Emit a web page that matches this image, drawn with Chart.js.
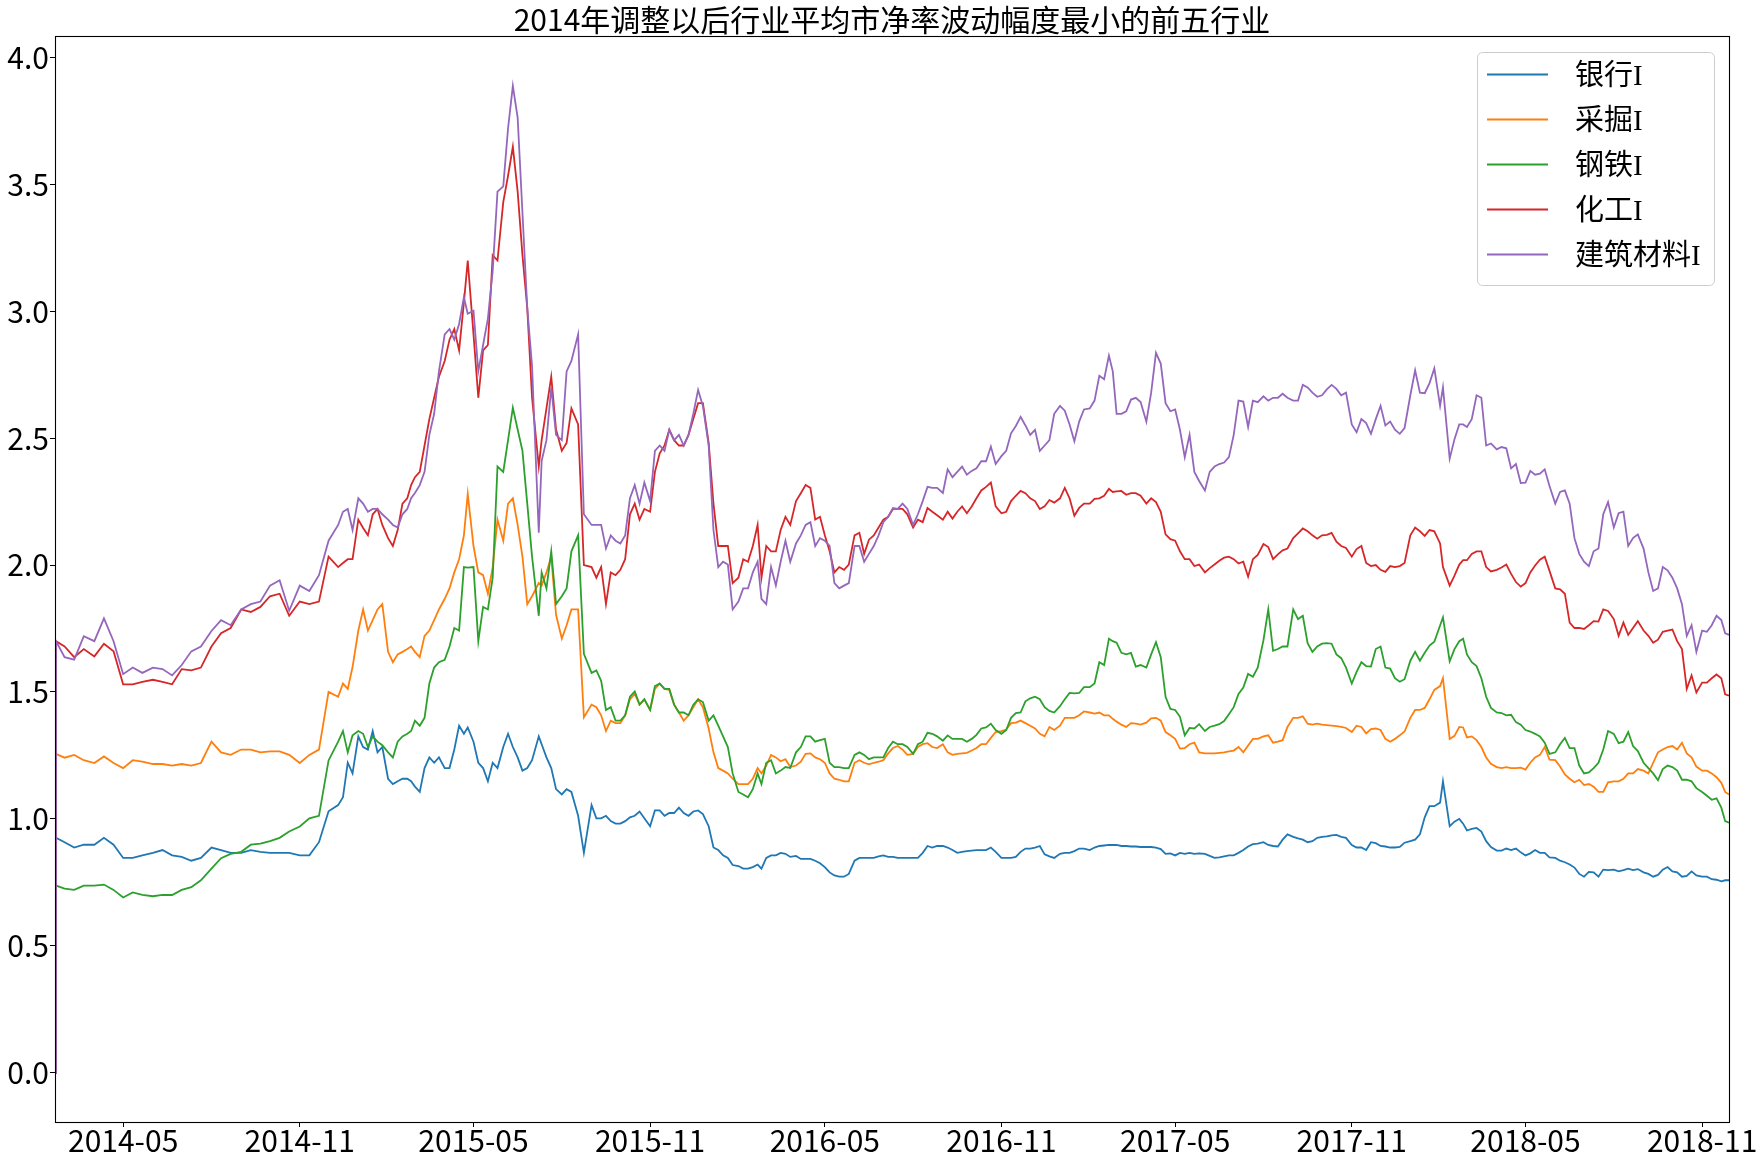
<!DOCTYPE html>
<html><head><meta charset="utf-8">
<script src="https://cdn.jsdelivr.net/npm/chart.js@4.4.1/dist/chart.umd.min.js"></script>
<style>html,body{margin:0;padding:0;background:#fff;}#wrap{width:1763px;height:1167px;}</style>
</head><body><div id="wrap"><canvas id="c" width="1763" height="1167"></canvas></div>
<script>
const chartTitle = '2014年调整以后行业平均市净率波动幅度最小的前五行业';
const seriesNames = ['银行I', '采掘I', '钢铁I', '化工I', '建筑材料I'];
const dates = [
'2014-02-19','2014-02-20','2014-03-01','2014-03-11','2014-03-21','2014-04-01','2014-04-11','2014-04-21','2014-05-01','2014-05-11','2014-05-21','2014-06-01','2014-06-11','2014-06-21','2014-07-01','2014-07-11','2014-07-21','2014-08-01','2014-08-11','2014-08-21','2014-09-01','2014-09-11','2014-09-21','2014-10-01','2014-10-11','2014-10-21','2014-11-01','2014-11-11','2014-11-21','2014-12-01','2014-12-11','2014-12-21',
'2015-01-01','2015-01-11','2015-01-21','2015-02-01','2015-02-11','2015-02-21','2015-03-01','2015-03-11','2015-03-21','2015-04-01','2015-04-11','2015-04-21','2015-04-25','2015-05-01','2015-05-11','2015-05-21','2015-06-01','2015-06-11','2015-06-21','2015-07-01','2015-07-08','2015-07-11','2015-07-21','2015-08-01','2015-08-11','2015-08-18','2015-08-24','2015-09-01','2015-09-11','2015-09-21','2015-10-01','2015-10-11','2015-10-21','2015-11-01','2015-11-11','2015-11-21','2015-12-01','2015-12-11','2015-12-21',
'2016-01-01','2016-01-11','2016-01-21','2016-02-01','2016-02-11','2016-02-21','2016-03-01','2016-03-11','2016-03-21','2016-04-01','2016-04-11','2016-04-21','2016-05-01','2016-05-11','2016-05-21','2016-06-01','2016-06-11','2016-06-21','2016-07-01','2016-07-11','2016-07-21','2016-08-01','2016-08-11','2016-08-21','2016-09-01','2016-09-11','2016-09-21','2016-10-01','2016-10-11','2016-10-21','2016-11-01','2016-11-11','2016-11-21','2016-12-01','2016-12-11','2016-12-21',
'2017-01-01','2017-01-11','2017-01-21','2017-02-01','2017-02-11','2017-02-21','2017-03-01','2017-03-11','2017-03-21','2017-04-01','2017-04-11','2017-04-21','2017-05-01','2017-05-11','2017-05-21','2017-06-01','2017-06-11','2017-06-21','2017-07-01','2017-07-11','2017-07-21','2017-08-01','2017-08-11','2017-08-21','2017-09-01','2017-09-11','2017-09-21','2017-10-01','2017-10-11','2017-10-21','2017-11-01','2017-11-11','2017-11-21','2017-12-01','2017-12-11','2017-12-21',
'2018-01-01','2018-01-11','2018-01-21','2018-02-01','2018-02-04','2018-02-11','2018-02-21','2018-03-01','2018-03-11','2018-03-21','2018-04-01','2018-04-11','2018-04-21','2018-05-01','2018-05-11','2018-05-21','2018-06-01','2018-06-11','2018-06-21','2018-07-01','2018-07-11','2018-07-21','2018-08-01','2018-08-11','2018-08-21','2018-09-01','2018-09-11','2018-09-21','2018-10-01','2018-10-11','2018-10-21','2018-11-01','2018-11-11','2018-11-21','2018-11-29'
];
// 银行I
const bank = [
0,.926,.908,.887,.898,.898,.925,.898,.846,.846,.856,.866,.877,.856,.85,.835,.846,.887,.877,.866,.866,.877,.87,.866,.866,.866,.856,.856,.908,1.03,1.054,1.221,
1.325,1.273,1.262,1.158,1.148,1.158,1.127,1.2,1.221,1.2,1.273,1.335,1.36,1.304,1.2,1.221,1.283,1.283,1.19,1.231,1.325,1.294,1.2,1.096,1.106,1.012,.866,1.054,1.002,.991,.981,1.006,1.029,.971,1.033,1.023,1.044,1.012,1.033,
.971,.877,.846,.814,.804,.82,.846,.856,.862,.854,.842,.835,.81,.777,.772,.835,.846,.846,.856,.85,.846,.846,.866,.887,.893,.877,.87,.875,.877,.887,.846,.846,.87,.883,.893,.852,
.862,.866,.883,.877,.893,.897,.897,.893,.891,.889,.887,.862,.856,.862,.862,.862,.846,.852,.856,.877,.9,.908,.893,.918,.929,.918,.912,.929,.935,.929,.897,.887,.908,.893,.887,.889,
.912,.939,1.05,1.064,1.148,.971,1.0,.954,.964,.912,.875,.883,.883,.856,.877,.866,.846,.829,.808,.772,.789,.8,.8,.798,.798,.789,.772,.8,.793,.772,.793,.772,.762,.754,.758
];
// 采掘I
const mining = [
0,1.256,1.241,1.252,1.231,1.22,1.246,1.22,1.2,1.231,1.225,1.216,1.216,1.21,1.216,1.21,1.22,1.304,1.262,1.252,1.273,1.273,1.262,1.266,1.266,1.252,1.22,1.252,1.273,1.5,1.481,1.512,
1.742,1.742,1.825,1.658,1.648,1.669,1.658,1.721,1.783,1.867,1.971,2.117,2.28,2.075,1.96,1.992,2.096,2.263,2.033,1.877,1.929,1.919,2.033,1.71,1.825,1.825,1.4,1.45,1.408,1.387,1.377,1.471,1.45,1.429,1.533,1.508,1.419,1.408,1.471,
1.356,1.2,1.179,1.137,1.137,1.2,1.21,1.242,1.235,1.21,1.256,1.242,1.221,1.158,1.148,1.221,1.221,1.221,1.231,1.279,1.273,1.256,1.294,1.283,1.294,1.252,1.258,1.269,1.294,1.319,1.346,1.377,1.387,1.367,1.335,1.362,
1.367,1.398,1.408,1.419,1.419,1.408,1.383,1.362,1.375,1.379,1.398,1.342,1.315,1.279,1.3,1.258,1.258,1.262,1.269,1.262,1.315,1.325,1.3,1.31,1.398,1.404,1.371,1.371,1.367,1.362,1.342,1.362,1.354,1.35,1.304,1.329,
1.398,1.429,1.471,1.523,1.554,1.315,1.362,1.321,1.31,1.242,1.204,1.204,1.2,1.194,1.242,1.283,1.231,1.175,1.144,1.133,1.127,1.106,1.148,1.158,1.179,1.19,1.221,1.273,1.287,1.3,1.242,1.19,1.179,1.142,1.096
];
// 钢铁I
const steel = [
0,.737,.725,.72,.737,.737,.741,.72,.69,.71,.7,.695,.7,.7,.72,.731,.758,.804,.845,.862,.87,.898,.902,.912,.925,.95,.97,1.002,1.012,1.23,1.304,1.262,
1.346,1.283,1.304,1.262,1.304,1.335,1.387,1.398,1.596,1.627,1.752,1.992,1.99,1.992,1.835,1.95,2.367,2.62,2.45,2.033,1.8,1.971,2.054,1.877,2.054,2.117,1.65,1.575,1.544,1.44,1.387,1.481,1.45,1.429,1.533,1.512,1.419,1.408,1.471,
1.387,1.367,1.283,1.106,1.085,1.179,1.221,1.179,1.204,1.262,1.325,1.304,1.315,1.204,1.2,1.252,1.252,1.242,1.242,1.304,1.294,1.256,1.304,1.335,1.308,1.315,1.315,1.315,1.356,1.375,1.335,1.398,1.419,1.475,1.471,1.425,
1.444,1.496,1.496,1.519,1.617,1.71,1.694,1.648,1.6,1.596,1.696,1.481,1.429,1.329,1.356,1.346,1.367,1.385,1.44,1.517,1.56,1.704,1.662,1.679,1.825,1.8,1.658,1.69,1.69,1.633,1.533,1.617,1.6,1.679,1.592,1.54,
1.623,1.623,1.683,1.762,1.794,1.621,1.7,1.648,1.602,1.481,1.419,1.408,1.381,1.35,1.335,1.3,1.262,1.319,1.279,1.179,1.2,1.273,1.335,1.304,1.287,1.221,1.179,1.196,1.204,1.154,1.148,1.106,1.075,1.044,.985
];
// 化工I
const chem = [
0,1.7,1.679,1.637,1.669,1.64,1.69,1.66,1.53,1.53,1.54,1.548,1.54,1.53,1.59,1.585,1.596,1.679,1.731,1.752,1.825,1.815,1.835,1.877,1.887,1.8,1.856,1.846,1.856,2.033,1.992,2.023,
2.179,2.117,2.221,2.106,2.138,2.263,2.346,2.471,2.659,2.804,2.93,3.034,3.2,2.909,2.846,3.221,3.43,3.648,3.221,2.659,2.388,2.492,2.742,2.45,2.617,2.554,2.0,1.992,1.992,1.971,1.981,2.2,2.179,2.21,2.44,2.533,2.471,2.513,2.638,
2.481,2.075,2.075,1.95,2.013,2.158,2.075,2.054,2.19,2.252,2.315,2.179,2.117,1.971,1.981,2.117,2.044,2.117,2.179,2.221,2.221,2.148,2.169,2.21,2.179,2.183,2.231,2.231,2.294,2.325,2.204,2.252,2.292,2.263,2.221,2.256,
2.263,2.263,2.225,2.242,2.263,2.3,2.29,2.277,2.283,2.242,2.248,2.121,2.096,2.023,1.996,1.971,2.002,2.029,2.023,2.013,2.023,2.083,2.023,2.058,2.106,2.144,2.117,2.117,2.127,2.075,2.033,2.075,1.996,1.981,1.996,1.996,
2.117,2.133,2.138,2.085,1.992,1.919,2.002,2.019,2.054,1.992,1.981,2.002,1.933,1.929,1.998,2.033,1.908,1.887,1.752,1.748,1.779,1.825,1.787,1.773,1.752,1.742,1.694,1.737,1.746,1.669,1.565,1.537,1.554,1.554,1.485
];
// 建筑材料I
const building = [
0,1.7,1.637,1.627,1.72,1.7,1.79,1.7,1.57,1.596,1.575,1.596,1.59,1.565,1.606,1.66,1.679,1.74,1.783,1.763,1.825,1.846,1.856,1.919,1.94,1.82,1.919,1.898,1.96,2.096,2.158,2.221,
2.263,2.21,2.221,2.179,2.148,2.221,2.284,2.367,2.596,2.909,2.888,3.055,2.99,3.002,2.867,3.159,3.492,3.888,3.388,2.784,2.127,2.41,2.7,2.492,2.804,2.909,2.2,2.158,2.158,2.117,2.085,2.263,2.242,2.252,2.471,2.533,2.513,2.513,2.69,
2.471,1.992,2.002,1.856,1.908,2.013,1.846,1.919,2.096,2.085,2.158,2.075,2.096,1.929,1.919,2.075,2.013,2.075,2.169,2.225,2.242,2.158,2.252,2.304,2.284,2.346,2.388,2.371,2.409,2.467,2.429,2.519,2.584,2.513,2.45,2.492,
2.627,2.554,2.565,2.617,2.746,2.825,2.596,2.606,2.659,2.565,2.836,2.638,2.613,2.425,2.367,2.294,2.388,2.404,2.513,2.644,2.648,2.665,2.659,2.675,2.648,2.71,2.679,2.669,2.71,2.669,2.554,2.575,2.517,2.627,2.565,2.517,
2.669,2.679,2.717,2.627,2.7,2.419,2.554,2.544,2.669,2.471,2.456,2.46,2.398,2.325,2.356,2.377,2.242,2.294,2.106,2.013,2.054,2.2,2.148,2.21,2.106,2.065,1.898,1.992,1.95,1.846,1.763,1.742,1.763,1.783,1.725
];
// additional readings between the dates above
const midDates = [
'2014-12-16','2014-12-26',
'2015-01-06','2015-01-16','2015-01-26','2015-02-06','2015-02-16','2015-02-25','2015-03-06','2015-03-16','2015-03-26','2015-04-06','2015-04-16','2015-05-06','2015-05-16','2015-05-26','2015-06-06','2015-06-16','2015-06-26','2015-07-16','2015-07-26','2015-08-06','2015-09-06','2015-09-16','2015-09-26','2015-10-06','2015-10-16','2015-10-26','2015-11-06','2015-11-16','2015-11-26','2015-12-06','2015-12-16','2015-12-26',
'2016-01-06','2016-01-16','2016-01-26','2016-02-06','2016-02-16','2016-02-25','2016-03-06','2016-03-16','2016-03-26','2016-04-06','2016-04-16','2016-04-26','2016-05-06','2016-05-16','2016-05-26','2016-06-06','2016-06-16','2016-06-26','2016-07-06','2016-07-16','2016-07-26','2016-08-06','2016-08-16','2016-08-26','2016-09-06','2016-09-16','2016-09-26','2016-10-06','2016-10-16','2016-10-26','2016-11-06','2016-11-16','2016-11-26','2016-12-06','2016-12-16','2016-12-26',
'2017-01-06','2017-01-16','2017-01-26','2017-02-06','2017-02-16','2017-02-25','2017-03-06','2017-03-16','2017-03-26','2017-04-06','2017-04-16','2017-04-26','2017-05-06','2017-05-16','2017-05-26','2017-06-06','2017-06-16','2017-06-26','2017-07-06','2017-07-16','2017-07-26','2017-08-06','2017-08-16','2017-08-26','2017-09-06','2017-09-16','2017-09-26','2017-10-06','2017-10-16','2017-10-26','2017-11-06','2017-11-16','2017-11-26','2017-12-06','2017-12-16','2017-12-26',
'2018-01-06','2018-01-16','2018-01-26','2018-02-16','2018-02-25','2018-03-06','2018-03-16','2018-03-26','2018-04-06','2018-04-16','2018-04-26','2018-05-06','2018-05-16','2018-05-26','2018-06-06','2018-06-16','2018-06-26','2018-07-06','2018-07-16','2018-07-26','2018-08-06','2018-08-16','2018-08-26','2018-09-06','2018-09-16','2018-09-26','2018-10-06','2018-10-16','2018-10-26','2018-11-06','2018-11-16','2018-11-25'
];
const bankMid = [
1.085,1.179,
1.283,1.346,1.283,1.137,1.158,1.148,1.106,1.242,1.242,1.2,1.367,1.221,1.148,1.2,1.335,1.242,1.2,1.242,1.117,1.117,1.002,1.012,.981,.991,1.012,1.002,1.033,1.012,1.023,1.023,1.029,1.019,
.887,.856,.818,.804,.81,.804,.856,.866,.85,.842,.842,.825,.789,.772,.783,.846,.846,.852,.85,.846,.846,.846,.893,.893,.887,.866,.873,.877,.877,.87,.846,.85,.883,.887,.86,.846,
.866,.873,.883,.887,.895,.897,.893,.891,.889,.889,.881,.864,.866,.866,.864,.854,.848,.856,.866,.891,.902,.897,.891,.939,.923,.908,.925,.931,.937,.925,.887,.877,.904,.891,.887,.906,
.918,1.006,1.05,.989,.981,.96,.95,.889,.875,.877,.868,.864,.866,.848,.835,.82,.783,.791,.772,.798,.793,.804,.802,.783,.779,.81,.789,.775,.777,.772,.76,.758
];
const miningMid = [
1.533,1.598,
1.825,1.783,1.846,1.617,1.658,1.679,1.637,1.742,1.825,1.908,2.023,1.971,1.887,2.179,2.242,2.158,1.846,1.971,1.804,1.763,1.44,1.346,1.377,1.408,1.492,1.471,1.512,1.512,1.45,1.387,1.44,1.44,
1.262,1.19,1.158,1.137,1.158,1.179,1.252,1.227,1.204,1.225,1.258,1.235,1.179,1.154,1.148,1.231,1.215,1.225,1.258,1.287,1.252,1.283,1.298,1.279,1.262,1.256,1.26,1.279,1.294,1.342,1.352,1.379,1.377,1.356,1.325,1.35,
1.398,1.398,1.423,1.415,1.408,1.394,1.371,1.377,1.371,1.396,1.387,1.329,1.277,1.294,1.262,1.258,1.26,1.266,1.283,1.289,1.315,1.329,1.304,1.362,1.398,1.375,1.375,1.369,1.365,1.358,1.367,1.337,1.356,1.315,1.315,1.344,
1.429,1.437,1.508,1.327,1.36,1.325,1.283,1.217,1.2,1.2,1.202,1.221,1.252,1.233,1.206,1.158,1.154,1.137,1.106,1.144,1.148,1.179,1.196,1.179,1.262,1.283,1.273,1.258,1.206,1.19,1.164,1.106
];
const steelMid = [
1.346,1.329,
1.335,1.325,1.29,1.242,1.325,1.346,1.367,1.533,1.617,1.679,1.742,1.7,1.825,2.388,2.492,2.534,2.242,1.908,1.846,1.908,1.585,1.429,1.387,1.408,1.502,1.471,1.523,1.512,1.45,1.419,1.45,1.46,
1.408,1.325,1.179,1.096,1.117,1.137,1.231,1.19,1.2,1.283,1.325,1.31,1.221,1.204,1.2,1.262,1.235,1.242,1.279,1.294,1.283,1.294,1.339,1.325,1.329,1.315,1.304,1.331,1.36,1.35,1.35,1.417,1.463,1.481,1.44,1.419,
1.471,1.494,1.519,1.533,1.606,1.7,1.654,1.654,1.606,1.648,1.637,1.433,1.402,1.358,1.373,1.362,1.373,1.412,1.492,1.571,1.596,1.825,1.669,1.679,1.787,1.692,1.679,1.692,1.648,1.596,1.579,1.602,1.669,1.596,1.554,1.55,
1.658,1.654,1.698,1.669,1.71,1.617,1.554,1.437,1.417,1.41,1.371,1.344,1.325,1.256,1.294,1.279,1.21,1.183,1.221,1.346,1.298,1.342,1.267,1.2,1.152,1.21,1.19,1.154,1.121,1.091,1.081,.991
];
const chemMid = [
2.008,2.023,
2.146,2.2,2.158,2.075,2.242,2.315,2.367,2.575,2.742,2.888,2.846,2.659,2.867,3.2,3.534,3.471,3.013,2.617,2.534,2.481,1.95,1.846,1.96,2.023,2.242,2.221,2.367,2.471,2.492,2.471,2.575,2.638,
2.242,2.075,1.929,2.023,2.075,1.95,2.054,2.138,2.158,2.283,2.304,2.19,2.054,1.992,2.002,2.127,2.1,2.148,2.19,2.221,2.2,2.179,2.225,2.196,2.21,2.21,2.204,2.263,2.308,2.231,2.21,2.273,2.283,2.252,2.231,2.246,
2.304,2.194,2.242,2.261,2.273,2.288,2.292,2.283,2.273,2.263,2.21,2.102,2.054,2.023,2.002,1.988,2.017,2.033,2.006,1.954,2.04,2.071,2.042,2.065,2.125,2.133,2.104,2.119,2.092,2.067,2.063,2.008,2.0,1.973,1.992,2.008,
2.148,2.115,2.133,1.958,2.019,2.044,2.054,1.975,1.99,1.965,1.915,1.971,2.021,1.977,1.904,1.773,1.752,1.763,1.777,1.819,1.721,1.725,1.779,1.721,1.706,1.742,1.7,1.512,1.498,1.537,1.569,1.491
];
const buildingMid = [
2.21,2.138,
2.242,2.221,2.2,2.158,2.2,2.263,2.315,2.513,2.763,2.93,2.95,2.763,2.971,3.471,3.721,3.763,3.013,2.492,2.513,2.763,2.158,2.065,2.096,2.117,2.315,2.325,2.45,2.45,2.492,2.471,2.596,2.627,
2.138,2.013,1.825,1.908,1.971,1.867,1.992,2.013,2.013,2.117,2.169,2.106,2.075,1.908,1.929,2.075,2.044,2.117,2.19,2.221,2.221,2.2,2.308,2.304,2.377,2.367,2.356,2.381,2.409,2.398,2.45,2.548,2.55,2.533,2.471,2.596,
2.608,2.488,2.613,2.648,2.732,2.763,2.596,2.652,2.642,2.679,2.794,2.606,2.533,2.513,2.331,2.367,2.398,2.425,2.648,2.544,2.642,2.648,2.659,2.659,2.648,2.7,2.663,2.692,2.694,2.679,2.523,2.559,2.575,2.55,2.533,2.54,
2.767,2.677,2.775,2.496,2.554,2.575,2.659,2.479,2.465,2.381,2.323,2.371,2.36,2.311,2.288,2.242,2.044,1.996,2.065,2.248,2.204,2.075,2.121,1.971,1.908,1.979,1.908,1.721,1.658,1.737,1.8,1.731
];
const xTickDates = ['2014-05-01','2014-11-01','2015-05-01','2015-11-01','2016-05-01','2016-11-01','2017-05-01','2017-11-01','2018-05-01','2018-11-01'];
const yTickValues = [0, 0.5, 1.0, 1.5, 2.0, 2.5, 3.0, 3.5, 4.0];
const colors = ['#1f77b4', '#ff7f0e', '#2ca02c', '#d62728', '#9467bd'];

const FONT = '"Noto Sans CJK SC", "Noto Sans", sans-serif';
function dayNum(s) { const p = s.split('-').map(Number); return Date.UTC(p[0], p[1] - 1, p[2]) / 86400000; }
function fmtMonth(v) { const d = new Date(v * 86400000); return d.getUTCFullYear() + '-' + String(d.getUTCMonth() + 1).padStart(2, '0'); }

const allDates = dates.concat(midDates);
const order = allDates.map((d, i) => i).sort((a, b) => dayNum(allDates[a]) - dayNum(allDates[b]));
const allX = allDates.map(dayNum);
const seriesValues = [
  bank.concat(bankMid), mining.concat(miningMid), steel.concat(steelMid),
  chem.concat(chemMid), building.concat(buildingMid)
];
const xMin = dayNum(dates[0]), xMax = dayNum(dates[dates.length - 1]);
const datasets = seriesNames.map((name, i) => ({
  label: name,
  data: order.map(j => ({ x: allX[j], y: seriesValues[i][j] })),
  borderColor: colors[i],
  backgroundColor: colors[i],
  borderWidth: 1.8,
  pointRadius: 0,
  tension: 0,
  fill: false,
  order: seriesNames.length - i
}));

const decor = {
  id: 'decor',
  afterDatasetsDraw(chart) {
    const ctx = chart.ctx, a = chart.chartArea;
    ctx.save();
    ctx.strokeStyle = '#000';
    ctx.lineWidth = 1.1;
    ctx.strokeRect(Math.round(a.left) + 0.5, Math.round(a.top) + 0.5, Math.round(a.right - a.left), Math.round(a.bottom - a.top));
    ctx.fillStyle = '#000';
    ctx.font = '30px ' + FONT;
    ctx.textAlign = 'center';
    ctx.textBaseline = 'middle';
    ctx.fillText(chartTitle, (a.left + a.right) / 2, 20);
    const bx = a.right - 252, by = a.top + 16, bw = 237, bh = 233;
    ctx.beginPath();
    ctx.roundRect(bx + 0.5, by + 0.5, bw, bh, 5);
    ctx.fillStyle = 'rgba(255,255,255,0.8)';
    ctx.fill();
    ctx.strokeStyle = '#cccccc';
    ctx.lineWidth = 1;
    ctx.stroke();
    ctx.textAlign = 'left';
    ctx.font = '29px "Liberation Serif", "Noto Sans CJK SC", serif';
    chart.data.datasets.forEach((ds, i) => {
      const y = by + 22.5 + i * 45;
      ctx.strokeStyle = ds.borderColor;
      ctx.lineWidth = 2;
      ctx.beginPath();
      ctx.moveTo(bx + 10, y);
      ctx.lineTo(bx + 71, y);
      ctx.stroke();
      ctx.fillStyle = '#000';
      ctx.fillText(ds.label, bx + 98, y + 3);
    });
    ctx.restore();
  }
};

new Chart(document.getElementById('c'), {
  type: 'line',
  data: { datasets: datasets },
  options: {
    responsive: false,
    animation: false,
    devicePixelRatio: 1,
    layout: { padding: { top: 36, right: 34, left: 0, bottom: 0 } },
    plugins: { legend: { display: false }, title: { display: false }, tooltip: { enabled: false } },
    scales: {
      x: {
        type: 'linear',
        min: xMin,
        max: xMax,
        afterBuildTicks: ax => { ax.ticks = xTickDates.map(s => ({ value: dayNum(s) })); },
        afterFit: ax => { ax.height = 45; },
        ticks: { callback: v => fmtMonth(v), font: { family: FONT, size: 30 }, color: '#000', maxRotation: 0, autoSkip: false, padding: -4 },
        grid: { drawOnChartArea: false, drawTicks: true, tickLength: 5, color: '#000', lineWidth: 1 },
        border: { display: true, color: '#000', width: 1 }
      },
      y: {
        type: 'linear',
        min: -0.1945,
        max: 4.0845,
        afterBuildTicks: ax => { ax.ticks = yTickValues.map(v => ({ value: v })); },
        afterFit: ax => { ax.width = 55; },
        ticks: { callback: v => Number(v).toFixed(1), font: { family: FONT, size: 30 }, color: '#000', autoSkip: false, padding: 1 },
        grid: { drawOnChartArea: false, drawTicks: true, tickLength: 5, color: '#000', lineWidth: 1 },
        border: { display: true, color: '#000', width: 1 }
      }
    }
  },
  plugins: [decor]
});
</script>
</body></html>
